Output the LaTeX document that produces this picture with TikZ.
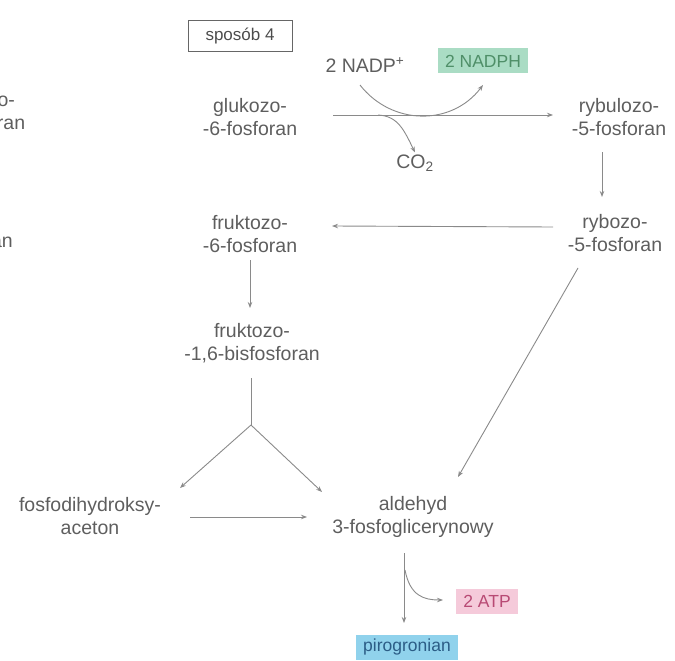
\documentclass[tikz,border=0pt]{standalone}
\usepackage{fontspec}
\setmainfont{Liberation Sans}
\usetikzlibrary{arrows.meta}
\definecolor{txt}{HTML}{5E5E5E}
\definecolor{ln}{HTML}{8A8A8A}
\definecolor{mint}{HTML}{AADCC4}
\definecolor{mintt}{HTML}{4F8F68}
\definecolor{rose}{HTML}{F5CADA}
\definecolor{roset}{HTML}{B84A74}
\definecolor{sky}{HTML}{90D2EC}
\definecolor{skyt}{HTML}{2C5D86}
\tikzset{
  lbl/.style={text=txt, align=center, inner sep=2pt, font=\fontsize{19.5}{22.5}\selectfont},
  tag/.style={inner xsep=7pt, inner ysep=0pt, minimum height=25pt, font=\fontsize{17.5}{20}\selectfont},
  conn/.style={draw=ln, line width=0.9pt},
  arr/.style={conn, -{Stealth[length=6pt,width=4.5pt]}},
}
\begin{document}
\begin{tikzpicture}[x=1pt,y=-1pt]
\useasboundingbox (0,0) rectangle (675,661);

% heading box
\node[draw=black!60, line width=1pt, minimum width=104pt, minimum height=31pt,
      text=black!70, font=\fontsize{17}{20}\selectfont] (hdr) at (240,36) {sposób 4};

% cofactors
\node[lbl] (nadp) at (365,65) {2 NADP\textsuperscript{+}};
\node[tag, fill=mint, text=mintt] (nadph) at (483,61) {2 NADPH};
\node[lbl] (co2) at (415,163) {CO\textsubscript{2}};
\node[tag, fill=rose, text=roset] (atp) at (487,601) {2 ATP};
\node[tag, fill=sky, text=skyt] (pyr) at (407,647) {pirogronian};

% metabolites
\node[lbl] (g6p) at (250,117) {glukozo-\\-6-fosforan};
\node[lbl] (ru5p) at (619,117) {rybulozo-\\-5-fosforan};
\node[lbl] (r5p) at (615,233) {rybozo-\\-5-fosforan};
\node[lbl] (f6p) at (250,234) {fruktozo-\\-6-fosforan};
\node[lbl] (f16) at (252,343) {fruktozo-\\-1,6-bisfosforan};
\node[lbl] (dhap) at (90,516) {fosfodihydroksy-\\aceton};
\node[lbl] (gap) at (413,517) {aldehyd\\3-fosfoglicerynowy};

% neighbouring column, cut by the left edge
\node[lbl] (lg6p) at (-22,111) {glukozo-\\-6-fosforan};
\node[lbl, anchor=east] (lf6p) at (15,241) {-6-fosforan};

% oxidative step
\draw[arr] ([xshift=83pt,yshift=2pt]g6p.center) -- ([xshift=-66pt,yshift=2pt]ru5p.center);
\draw[arr] ([xshift=-5pt,yshift=-20pt]nadp.center)
  .. controls (392,126) and (452,126) .. ([yshift=-24pt]nadph.center);
\draw[arr] ([xshift=128pt,yshift=2pt]g6p.center) .. controls (398,116) and (404,130) .. (co2.north);

% isomerisation and return
\draw[arr] ([xshift=-17pt,yshift=-35pt]ru5p.center) -- ([xshift=-13pt,yshift=36pt]r5p.center);
\draw[arr] ([xshift=-62pt,yshift=6pt]r5p.center) -- ([xshift=82pt,yshift=8pt]f6p.center);
\draw[arr] ([yshift=-26pt]f6p.center) -- ([xshift=-2pt,yshift=35pt]f16.center);

% aldolase split
\coordinate (fork) at (251,425);
\draw[conn] ([xshift=-1pt,yshift=-35pt]f16.center) -- (fork);
\draw[arr] (fork) -- ([xshift=90pt,yshift=28pt]dhap.center);
\draw[arr] (fork) -- ([xshift=-91pt,yshift=25pt]gap.center);
\draw[arr] ([xshift=100pt,yshift=-1pt]dhap.center) -- ([xshift=-106pt]gap.center);
\draw[arr] ([xshift=-37pt,yshift=-35pt]r5p.center) -- ([xshift=45pt,yshift=40pt]gap.center);

% lower half
\draw[arr] ([xshift=-9pt,yshift=-36pt]gap.center) -- ([xshift=-3pt,yshift=24pt]pyr.center);
\draw[arr] ([xshift=-8pt,yshift=-53pt]gap.center) .. controls (410,596) and (424,600)
  .. ([xshift=-44pt,yshift=1pt]atp.center);
\end{tikzpicture}
\end{document}
